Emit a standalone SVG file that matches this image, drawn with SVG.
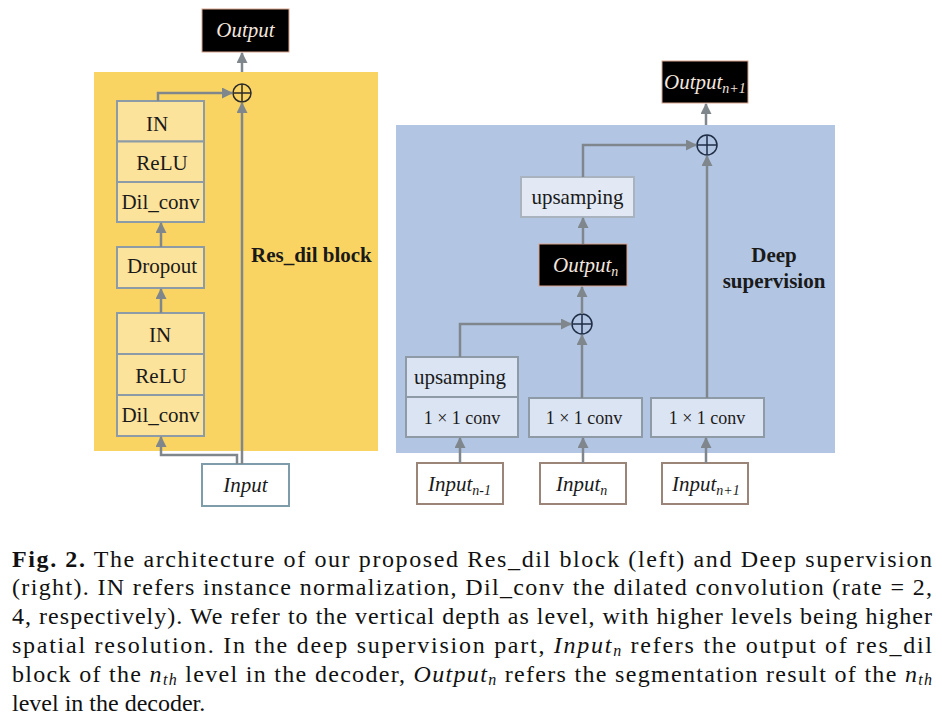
<svg xmlns="http://www.w3.org/2000/svg" width="942" height="723" viewBox="0 0 942 723">
<defs>
<marker id="ah" markerUnits="userSpaceOnUse" markerWidth="11" markerHeight="11" refX="10" refY="5.5" orient="auto">
<path d="M0,0 L11,5.5 L0,11 z" fill="#7f878c"/>
</marker>
<style>
.t{font-family:"Liberation Serif","Times New Roman",serif;fill:#1a1a1a}
.bx{font-size:21px;text-anchor:middle}
.it{font-style:italic}
.wt{fill:#f3e6df}
.ybox{fill:#fce39c;stroke:#8d9ba6;stroke-width:2}
.bbox{fill:#dbe4f2;stroke:#8e9aa5;stroke-width:2}
.kbox{fill:#000;stroke:#d9a48f;stroke-width:1}
.ibox{fill:#fff;stroke-width:2}
.con{fill:none;stroke:#7f878c;stroke-width:2.5}
.plus{fill:none;stroke-width:1.5}
.cap{font-family:"Liberation Serif","Times New Roman",serif;font-size:24px;fill:#111}
</style>
</defs>
<rect width="942" height="723" fill="#fff"/>

<!-- panels -->
<g id="resdil-panel">
<rect x="94" y="72" width="284" height="379" fill="#fad463"/>
<text class="t" x="251" y="262" font-size="21" font-weight="bold">Res_dil block</text>
</g>
<g id="deepsup-panel">
<rect x="396" y="125" width="439" height="328" fill="#b2c6e4"/>
<text class="t" x="774" y="262" font-size="21" font-weight="bold" text-anchor="middle">Deep</text>
<text class="t" x="774" y="288" font-size="21" font-weight="bold" text-anchor="middle">supervision</text>
</g>

<!-- left nodes -->
<g id="output-left">
<rect class="kbox" x="202" y="9" width="87" height="43"/>
<text class="t bx it wt" x="245.5" y="37">Output</text>
</g>
<g id="plus-left">
<circle cx="242" cy="93" r="9" class="plus" stroke="#2b2b2b"/>
<path d="M233,93 H251 M242,84 V102" class="plus" stroke="#2b2b2b"/>
</g>
<g id="stack-top">
<rect class="ybox" x="117" y="101" width="87" height="40.5"/>
<rect class="ybox" x="117" y="141.5" width="87" height="40.5"/>
<rect class="ybox" x="117" y="182" width="87" height="40"/>
<text class="t bx" x="157" y="131">IN</text>
<text class="t bx" x="162" y="170">ReLU</text>
<text class="t bx" x="160.5" y="209">Dil_conv</text>
</g>
<g id="dropout">
<rect class="ybox" x="117" y="247" width="87" height="41"/>
<text class="t bx" x="162" y="273">Dropout</text>
</g>
<g id="stack-bottom">
<rect class="ybox" x="117" y="313" width="87" height="41"/>
<rect class="ybox" x="117" y="354" width="87" height="41"/>
<rect class="ybox" x="117" y="395" width="87" height="41"/>
<text class="t bx" x="160" y="342">IN</text>
<text class="t bx" x="161" y="383">ReLU</text>
<text class="t bx" x="160.5" y="422">Dil_conv</text>
</g>
<g id="input-left">
<rect class="ibox" x="202" y="464" width="87" height="42" stroke="#7f9cab"/>
<text class="t bx it" x="245.5" y="492">Input</text>
</g>

<!-- right nodes -->
<g id="output-n1">
<rect class="kbox" x="662" y="61" width="86" height="42"/>
<text class="t it wt" x="664" y="89" font-size="21">Output<tspan font-size="14" dy="4">n+1</tspan></text>
</g>
<g id="plus-top">
<circle cx="707" cy="145" r="10" class="plus" stroke="#1f2d45"/>
<path d="M697,145 H717 M707,135 V155" class="plus" stroke="#1f2d45"/>
</g>
<g id="upsampling-top">
<rect x="521" y="177" width="113" height="40" fill="#e2e9f4" stroke="#a9b3bf" stroke-width="2"/>
<text class="t bx" x="577.5" y="204">upsamping</text>
</g>
<g id="output-n">
<rect class="kbox" x="539" y="244" width="88" height="42"/>
<text class="t it wt" x="553" y="272" font-size="21">Output<tspan font-size="14" dy="4">n</tspan></text>
</g>
<g id="plus-mid">
<circle cx="582" cy="324" r="10" class="plus" stroke="#1f2d45"/>
<path d="M572,324 H592 M582,314 V334" class="plus" stroke="#1f2d45"/>
</g>
<g id="upconv-left">
<rect class="bbox" x="406" y="357" width="112" height="40"/>
<rect class="bbox" x="406" y="397" width="112" height="40"/>
<text class="t bx" x="460" y="384">upsamping</text>
<text class="t" x="462" y="424" font-size="18" text-anchor="middle">1 × 1 conv</text>
</g>
<g id="conv-mid">
<rect class="bbox" x="529" y="398" width="113" height="39"/>
<text class="t" x="584" y="424" font-size="18" text-anchor="middle">1 × 1 conv</text>
</g>
<g id="conv-right">
<rect class="bbox" x="651" y="398" width="113" height="39"/>
<text class="t" x="707" y="424" font-size="18" text-anchor="middle">1 × 1 conv</text>
</g>
<g id="input-n-1">
<rect class="ibox" x="417" y="463" width="86" height="41" stroke="#9b8478"/>
<text class="t it" x="428" y="491" font-size="21">Input<tspan font-size="14" dy="4">n-1</tspan></text>
</g>
<g id="input-n">
<rect class="ibox" x="540" y="463" width="86" height="41" stroke="#9b8478"/>
<text class="t it" x="556" y="491" font-size="21">Input<tspan font-size="14" dy="4">n</tspan></text>
</g>
<g id="input-n1">
<rect class="ibox" x="662" y="463" width="86" height="41" stroke="#9b8478"/>
<text class="t it" x="672" y="491" font-size="21">Input<tspan font-size="14" dy="4">n+1</tspan></text>
</g>

<!-- connectors -->
<g id="connectors">
<path class="con" d="M242,72 V53" marker-end="url(#ah)"/>
<path class="con" d="M158,101 V93 H232" marker-end="url(#ah)"/>
<path class="con" d="M242,464 V103" marker-end="url(#ah)"/>
<path class="con" d="M237,464 V455 H161 V437" marker-end="url(#ah)"/>
<path class="con" d="M161,313 V289" marker-end="url(#ah)"/>
<path class="con" d="M161,247 V223" marker-end="url(#ah)"/>

<path class="con" d="M706,125 V104" marker-end="url(#ah)"/>
<path class="con" d="M583,177 V145 H696" marker-end="url(#ah)"/>
<path class="con" d="M707,398 V156" marker-end="url(#ah)"/>
<path class="con" d="M583,244 V218" marker-end="url(#ah)"/>
<path class="con" d="M582,314 V287" marker-end="url(#ah)"/>
<path class="con" d="M460,357 V324 H571" marker-end="url(#ah)"/>
<path class="con" d="M582,398 V335" marker-end="url(#ah)"/>
<path class="con" d="M460,463 V438" marker-end="url(#ah)"/>
<path class="con" d="M583,463 V438" marker-end="url(#ah)"/>
<path class="con" d="M706,463 V438" marker-end="url(#ah)"/>
</g>

<!-- caption -->
<g id="caption">
<text class="cap" x="12" y="567" textLength="920" lengthAdjust="spacing"><tspan font-weight="bold">Fig. 2.</tspan> The architecture of our proposed Res_dil block (left) and Deep supervision</text>
<text class="cap" x="12" y="595" textLength="920" lengthAdjust="spacing">(right). IN refers instance normalization, Dil_conv the dilated convolution (rate = 2,</text>
<text class="cap" x="12" y="624" textLength="920" lengthAdjust="spacing">4, respectively). We refer to the vertical depth as level, with higher levels being higher</text>
<text class="cap" x="12" y="653" textLength="920" lengthAdjust="spacing">spatial resolution. In the deep supervision part, <tspan font-style="italic">Input</tspan><tspan font-style="italic" font-size="16" dy="3">n</tspan><tspan dy="-3"> refers the output of res_dil</tspan></text>
<text class="cap" x="12" y="682" textLength="920" lengthAdjust="spacing">block of the <tspan font-style="italic">n</tspan><tspan font-style="italic" font-size="16" dy="3">th</tspan><tspan dy="-3"> level in the decoder, </tspan><tspan font-style="italic">Output</tspan><tspan font-style="italic" font-size="16" dy="3">n</tspan><tspan dy="-3"> refers the segmentation result of the </tspan><tspan font-style="italic">n</tspan><tspan font-style="italic" font-size="16" dy="3">th</tspan></text>
<text class="cap" x="12" y="711">level in the decoder.</text>
</g>
</svg>
